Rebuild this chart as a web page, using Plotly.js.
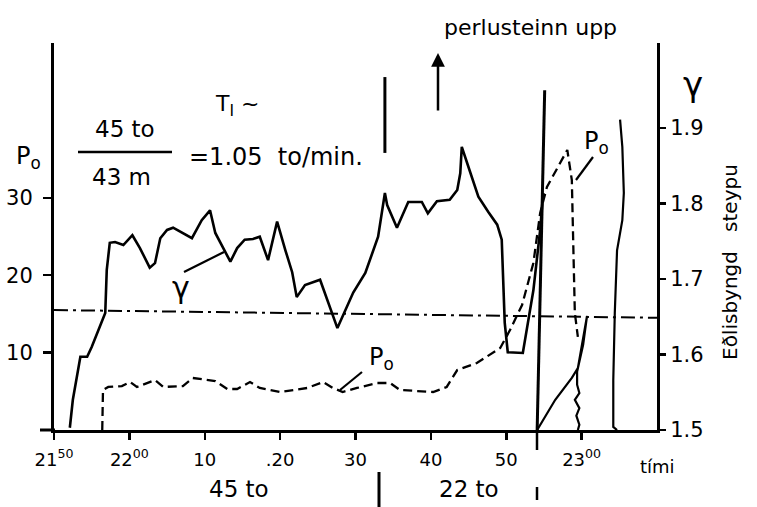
<!DOCTYPE html>
<html>
<head>
<meta charset="utf-8">
<script src="https://cdn.plot.ly/plotly-3.0.1.min.js"></script>
<style>html,body{margin:0;padding:0;background:#fff}#chart{width:757px;height:507px}</style>
</head>
<body>
<div id="chart"></div>
<script>
// time axis: minutes after 21:00
const tickVals = [50, 60, 70, 80, 90, 100, 110, 120];
const tickText = ['21<sup>50</sup>', '22<sup>00</sup>', '10', '.20', '30', '40', '50', '23<sup>00</sup>'];
const leftTicks = [10, 20, 30];
const rightTicks = [1.5, 1.6, 1.7, 1.8, 1.9];

// γ (specific gravity), main trace
const gammaTime = [52.1,52.5,53.5,54.4,55.0,56.1,56.8,57.0,57.4,58.1,59.2,60.4,61.4,62.7,63.4,64.1,65.0,65.8,67.1,68.3,69.6,70.7,71.4,72.0,73.4,74.3,75.3,76.4,77.3,78.4,79.6,80.7,81.6,82.2,83.3,85.3,87.6,89.7,91.3,93.0,93.9,94.2,95.5,97.0,98.8,99.6,100.8,102.5,103.5,103.9,104.1,104.8,106.3,107.6,108.8,109.4,109.8,110.2,112.2,113.6,114.5,114.9];
const gammaVal  = [1.503,1.540,1.597,1.597,1.610,1.636,1.655,1.712,1.748,1.749,1.745,1.758,1.741,1.715,1.721,1.754,1.765,1.768,1.761,1.754,1.778,1.791,1.761,1.749,1.723,1.741,1.752,1.753,1.756,1.725,1.776,1.738,1.709,1.676,1.692,1.699,1.635,1.682,1.708,1.756,1.814,1.798,1.768,1.802,1.802,1.787,1.803,1.805,1.818,1.840,1.875,1.854,1.809,1.789,1.772,1.752,1.642,1.603,1.602,1.685,1.765,1.814];

// γ, second part (after 22:54)
const gamma2Time = [114.1,116.5,118.7,119.5,120.7,120.2,119.4,119.4,119.7,119.1,119.7,119.3,119.7,119.5];
const gamma2Val  = [1.500,1.540,1.569,1.582,1.650,1.613,1.577,1.560,1.549,1.540,1.529,1.519,1.507,1.500];

// γ, third part (near 23:05)
const gamma3Time = [125.1,125.4,125.6,125.4,124.7,124.4,124.2,124.2,124.7];
const gamma3Val  = [1.911,1.875,1.814,1.778,1.738,1.655,1.566,1.504,1.500];

// P0 (dashed)
const p0Time = [56.4,56.5,57.2,59.0,60.1,61.0,63.4,64.5,67.1,68.4,71.4,73.0,74.3,76.0,77.3,80.0,83.6,85.7,87.0,88.3,90.2,92.9,94.6,95.9,100.3,102.1,103.5,106.1,109.2,110.5,112.1,113.6,114.5,115.4,118.1,118.7,118.9,119.1,119.5];
const p0Val  = [0,5.17,5.56,5.68,6.20,5.56,6.46,5.56,5.68,6.72,6.33,5.30,5.30,6.20,5.43,4.91,5.43,6.20,5.43,4.91,5.43,6.07,6.07,5.17,4.91,5.56,7.75,8.66,10.59,12.92,16.15,21.58,28.04,31.40,36.18,32.30,23.64,15.12,12.02];

// reference level (dash-dot)
const refTime = [50, 130];
const refVal  = [15.5, 14.5];

// separator marks
const sep1Time = [93.9, 93.9];
const sep1Val  = [35.8, 45.6];
const sep2Time = [114.1, 115.1];
const sep2Val  = [0, 43.9];

const F = 'DejaVu Sans, sans-serif';
const px = x => (x - 54) / 603;
const py = y => (430 - y) / 387;

const traces = [
  {x: refTime, y: refVal, yaxis: 'y', mode: 'lines', line: {color: '#000', width: 2, dash: '14px,5px,3px,5px'}, hoverinfo: 'skip'},
  {x: gammaTime, y: gammaVal, yaxis: 'y2', mode: 'lines', line: {color: '#000', width: 2.6}},
  {x: gamma2Time, y: gamma2Val, yaxis: 'y2', mode: 'lines', line: {color: '#000', width: 2.2}},
  {x: gamma3Time, y: gamma3Val, yaxis: 'y2', mode: 'lines', line: {color: '#000', width: 2.2}},
  {x: p0Time, y: p0Val, yaxis: 'y', mode: 'lines', line: {color: '#000', width: 2.3, dash: '9px,5px'}},
  {x: sep1Time, y: sep1Val, yaxis: 'y', mode: 'lines', line: {color: '#000', width: 3}},
  {x: sep2Time, y: sep2Val, yaxis: 'y', mode: 'lines', line: {color: '#000', width: 3}}
];

const ann = (x, y, text, size, extra) => Object.assign({xref: 'paper', yref: 'paper', x: px(x), y: py(y), xanchor: 'center', yanchor: 'middle', text: text, showarrow: false, font: {family: F, size: size, color: '#000'}}, extra || {});

const layout = {
  width: 757, height: 507,
  margin: {l: 54, r: 100, t: 43, b: 77},
  paper_bgcolor: '#fff', plot_bgcolor: '#fff',
  showlegend: false,
  font: {family: F, color: '#000'},
  xaxis: {
    range: [50, 130], tickvals: tickVals, ticktext: tickText,
    showgrid: false, zeroline: false, showline: true, linewidth: 3, linecolor: '#000',
    ticks: 'outside', ticklen: 7, tickwidth: 2.5, tickcolor: '#000',
    ticklabelstandoff: 4,
    tickfont: {family: F, size: 18, color: '#000'}
  },
  yaxis: {
    range: [0, 50], tickvals: leftTicks,
    showgrid: false, zeroline: false, showline: true, linewidth: 3, linecolor: '#000',
    ticks: 'outside', ticklen: 8, tickwidth: 2.5, tickcolor: '#000',
    ticklabelstandoff: 6,
    tickfont: {family: F, size: 21, color: '#000'}
  },
  yaxis2: {
    overlaying: 'y', side: 'right', range: [1.5, 2.0126], tickvals: rightTicks,
    showgrid: false, zeroline: false, showline: true, linewidth: 3, linecolor: '#000',
    ticks: 'outside', ticklen: 6, tickwidth: 2.5, tickcolor: '#000',
    tickfont: {family: F, size: 21, color: '#000'}
  },
  shapes: [
    {type: 'line', xref: 'paper', yref: 'paper', x0: px(40), x1: px(55), y0: 0, y1: 0, line: {color: '#000', width: 3}},
    {type: 'line', xref: 'paper', yref: 'paper', x0: px(78), x1: px(172), y0: py(152), y1: py(152), line: {color: '#000', width: 2.5}},
    {type: 'line', xref: 'paper', yref: 'paper', x0: px(184), x1: px(224), y0: py(272), y1: py(252), line: {color: '#000', width: 2.2}},
    {type: 'line', xref: 'paper', yref: 'paper', x0: px(362), x1: px(340), y0: py(372), y1: py(390), line: {color: '#000', width: 2.2}},
    {type: 'line', xref: 'paper', yref: 'paper', x0: px(593), x1: px(576), y0: py(157), y1: py(180), line: {color: '#000', width: 2.2}},
    {type: 'line', xref: 'paper', yref: 'paper', x0: px(537), x1: px(537), y0: py(430), y1: py(450), line: {color: '#000', width: 2.5}},
    {type: 'line', xref: 'paper', yref: 'paper', x0: px(537), x1: px(537), y0: py(487), y1: py(500), line: {color: '#000', width: 2.5}},
    {type: 'line', xref: 'paper', yref: 'paper', x0: px(379), x1: px(379), y0: py(472), y1: py(507), line: {color: '#000', width: 3}}
  ],
  annotations: [
    ann(530, 27, 'perlusteinn upp', 22),
    {xref: 'paper', yref: 'paper', x: px(438), y: py(53), ax: 0, ay: 59, text: '', showarrow: true, arrowhead: 2, arrowsize: 1.1, arrowwidth: 2.5, arrowcolor: '#000'},
    ann(28, 157, 'P<sub>o</sub>', 24),
    ann(693, 84, 'γ', 34),
    ann(730, 262, 'Eðlisbyngd&nbsp;&nbsp; steypu', 20, {textangle: -90}),
    ann(657, 466, 'tími', 18),
    ann(237, 105, 'T<sub>I</sub> ~', 22),
    ann(125, 129, '45 to', 23),
    ann(121, 177, '43 m', 23),
    ann(276, 157, '=1.05  to/min.', 24),
    ann(181, 287, 'γ', 30),
    ann(381, 358, 'P<sub>o</sub>', 24),
    ann(596, 142, 'P<sub>o</sub>', 24),
    ann(239, 489, '45 to', 23),
    ann(469, 489, '22 to', 23)
  ]
};

Plotly.newPlot('chart', traces, layout, {staticPlot: true, displayModeBar: false});
</script>
</body>
</html>
